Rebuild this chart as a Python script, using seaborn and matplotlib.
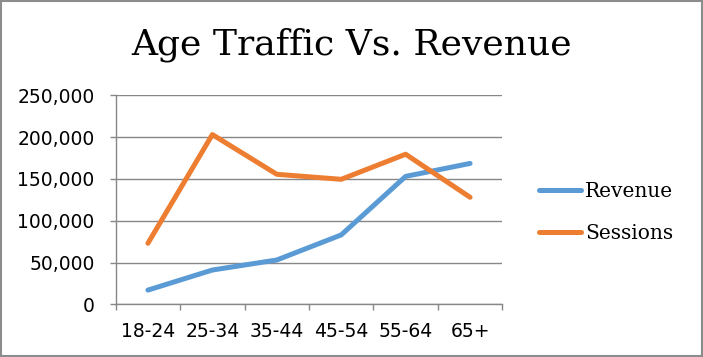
import matplotlib
matplotlib.use("Agg")
import matplotlib.pyplot as plt
from matplotlib.patches import Rectangle
import matplotlib.ticker as mticker
import numpy as np
import pandas as pd
import seaborn as sns

# Data ------------------------------------------------------------------------
AGE_GROUPS = ["18-24", "25-34", "35-44", "45-54", "55-64", "65+"]
REVENUE = [17000, 41000, 53000, 83000, 153000, 168500]
SESSIONS = [73000, 203000, 155500, 149500, 179500, 128000]

# Style -----------------------------------------------------------------------
sns.set_style("white")
plt.rcParams.update({"font.family": ["DejaVu Sans"], "text.color": "black",
                     "xtick.labelcolor": "black", "ytick.labelcolor": "black"})
PALETTE = {"Revenue": "#5B9BD5", "Sessions": "#ED7D31"}
GRID = "#878787"

df = pd.DataFrame({
    "age": AGE_GROUPS * 2,
    "value": REVENUE + SESSIONS,
    "series": ["Revenue"] * len(AGE_GROUPS) + ["Sessions"] * len(AGE_GROUPS),
})

fig = plt.figure(figsize=(7.03, 3.57), dpi=100)
ax = fig.add_axes([0.1646, 0.1476, 0.5499, 0.5855])

sns.lineplot(data=df, x="age", y="value", hue="series", palette=PALETTE,
             linewidth=3.6, solid_capstyle="round", solid_joinstyle="round",
             ax=ax, legend=True)

ax.set_xlim(-0.5, len(AGE_GROUPS) - 0.5)
ax.set_ylim(0, 250000)
ax.set_xlabel("")
ax.set_ylabel("")

# y axis: gridlines, comma labels
ax.yaxis.set_major_locator(mticker.MultipleLocator(50000))
ax.yaxis.set_major_formatter(mticker.FuncFormatter(lambda v, p: f"{int(v):,}"))
ax.grid(axis="y", color=GRID, lw=1.0)
ax.grid(axis="x", visible=False)
ax.set_axisbelow(True)

# x axis: tick marks between categories, labels at centres
ax.xaxis.set_major_locator(mticker.FixedLocator(np.arange(-0.5, len(AGE_GROUPS), 1.0)))
ax.xaxis.set_major_formatter(mticker.NullFormatter())
ax.xaxis.set_minor_locator(mticker.FixedLocator(np.arange(len(AGE_GROUPS))))
ax.xaxis.set_minor_formatter(mticker.FixedFormatter(AGE_GROUPS))
ax.tick_params(axis="x", which="major", direction="out", length=4.3, width=1.0,
               color=GRID, bottom=True)
ax.tick_params(axis="x", which="minor", length=0, pad=13, labelsize=13.5,
               labelcolor="black")
ax.tick_params(axis="y", which="major", direction="out", length=4.3, width=1.0,
               color=GRID, left=True, pad=11, labelsize=13.5, labelcolor="black")

for s in ["top", "right"]:
    ax.spines[s].set_visible(False)
for s in ["left", "bottom"]:
    ax.spines[s].set_color(GRID)
    ax.spines[s].set_linewidth(1.0)

fig.text(0.5, 0.846, "Age Traffic Vs. Revenue", ha="center", va="baseline",
         fontsize=26, family="DejaVu Serif", color="black")

handles, labels = ax.get_legend_handles_labels()
leg = ax.legend(handles, labels, loc="center left", bbox_to_anchor=(0.752, 0.405),
                bbox_transform=fig.transFigure, frameon=False,
                prop={"family": "DejaVu Serif", "size": 14.5},
                handlelength=2.1, handletextpad=0.2, labelspacing=1.15, borderpad=0)
for t in leg.get_texts():
    t.set_color("black")

fig.patches.append(Rectangle((0.001, 0.002), 0.997, 0.995, transform=fig.transFigure,
                             fill=False, edgecolor="#8c8c8c", lw=1.5))

fig.savefig("out.png", dpi=100)
